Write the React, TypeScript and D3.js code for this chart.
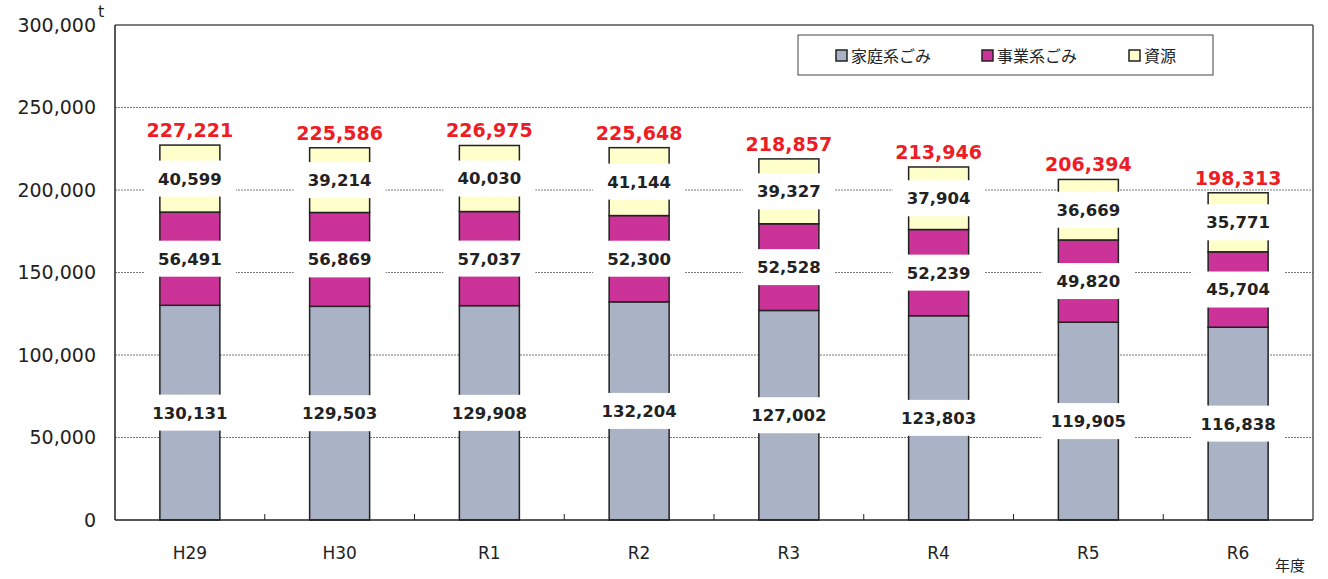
import React from "react";
import * as d3 from "d3";

const categories = ["H29", "H30", "R1", "R2", "R3", "R4", "R5", "R6"];
const household = [130131, 129503, 129908, 132204, 127002, 123803, 119905, 116838];
const business = [56491, 56869, 57037, 52300, 52528, 52239, 49820, 45704];
const resources = [40599, 39214, 40030, 41144, 39327, 37904, 36669, 35771];
const totals = [227221, 225586, 226975, 225648, 218857, 213946, 206394, 198313];
const seriesNames = ["家庭系ごみ", "事業系ごみ", "資源"];
const seriesColors = ["#aab3c6", "#cc3399", "#ffffcc"];
const yTicks = [0, 50000, 100000, 150000, 200000, 250000, 300000];

const W = 1328, H = 579;
const left = 115, right = 1313, top = 25, bottom = 520;

export default function App() {
  const x = d3.scaleBand<string>().domain(categories).range([left, right]).paddingInner(0).paddingOuter(0);
  const y = d3.scaleLinear().domain([0, 300000]).range([bottom, top]);
  const fmt = d3.format(",");
  const rows = categories.map((c, i) => ({ cat: c, household: household[i], business: business[i], resources: resources[i] }));
  const stack = d3.stack<any>().keys(["household", "business", "resources"]);
  const layers = stack(rows);
  const barW = 60;
  const labelFont = "'DejaVu Sans', Verdana, sans-serif";

  return (
    <div style={{ position: "absolute", left: 0, top: 0 }}>
      <svg width={W} height={H} style={{ display: "block", background: "#fff" }}>
        {yTicks.filter(t => t > 0 && t < 300000).map(t => (
          <line key={"g" + t} x1={left} x2={right} y1={y(t)} y2={y(t)} stroke="#777" strokeWidth={1} strokeDasharray="2,1" />
        ))}
        <line x1={left} x2={right} y1={top} y2={top} stroke="#555" strokeWidth={1.5} />
        <line x1={right} x2={right} y1={top} y2={bottom} stroke="#555" strokeWidth={1.5} />
        {layers.map((layer, li) =>
          layer.map((d, i) => {
            const cx = x(categories[i])! + x.bandwidth() / 2;
            return (
              <rect key={li + "-" + i} x={cx - barW / 2} y={y(d[1])} width={barW} height={y(d[0]) - y(d[1])}
                fill={seriesColors[li]} stroke="#222" strokeWidth={1.5} />
            );
          })
        )}
        <line x1={left} x2={left} y1={top} y2={bottom} stroke="#222" strokeWidth={1.5} />
        <line x1={left} x2={right} y1={bottom} y2={bottom} stroke="#222" strokeWidth={1.5} />
        {categories.slice(1).map(c => (
          <line key={"t" + c} x1={x(c)!} x2={x(c)!} y1={bottom} y2={bottom - 6} stroke="#222" strokeWidth={1} />
        ))}
        {layers.map((layer, li) =>
          layer.map((d, i) => {
            const cx = x(categories[i])! + x.bandwidth() / 2;
            const cy = y((d[0] + d[1]) / 2);
            const v = (d.data as any)[layer.key];
            return (
              <g key={"l" + li + "-" + i}>
                <rect x={cx - 46} y={cy - 18} width={92} height={36} fill="#fff" />
                <text x={cx} y={cy} dy="0.36em" textAnchor="middle" fontFamily={labelFont} fontWeight="bold" fontSize={16.5} fill="#222">{fmt(v)}</text>
              </g>
            );
          })
        )}
        {totals.map((t, i) => (
          <text key={"tot" + i} x={x(categories[i])! + x.bandwidth() / 2} y={y(t) - 8} textAnchor="middle"
            fontFamily={labelFont} fontWeight="bold" fontSize={19} fill="#ee1c25">{fmt(t)}</text>
        ))}
        {yTicks.map(t => (
          <text key={"y" + t} x={96} y={y(t)} dy="0.36em" textAnchor="end" fontFamily={labelFont} fontSize={19} fill="#222">{fmt(t)}</text>
        ))}
        <text x={98} y={17} fontFamily={labelFont} fontSize={16} fill="#222">t</text>
        {categories.map(c => (
          <text key={"x" + c} x={x(c)! + x.bandwidth() / 2} y={553} dy="0.36em" textAnchor="middle" fontFamily={labelFont} fontSize={17} fill="#222">{c}</text>
        ))}
        <text x={1290} y={566} dy="0.36em" textAnchor="middle" fontFamily="'Noto Sans CJK JP', sans-serif" fontSize={15} fill="#222">年度</text>
        <rect x={798} y={35} width={415} height={40} fill="#fff" stroke="#444" strokeWidth={1} />
        {seriesNames.map((n, i) => {
          const lx = [842, 988, 1135][i];
          return (
            <g key={"lg" + n}>
              <rect x={lx - 6} y={50} width={11} height={11} fill={seriesColors[i]} stroke="#222" strokeWidth={1.5} />
              <text x={lx + 9} y={56} dy="0.36em" fontFamily="'Noto Sans CJK JP', sans-serif" fontSize={16} fill="#222">{n}</text>
            </g>
          );
        })}
      </svg>
    </div>
  );
}
